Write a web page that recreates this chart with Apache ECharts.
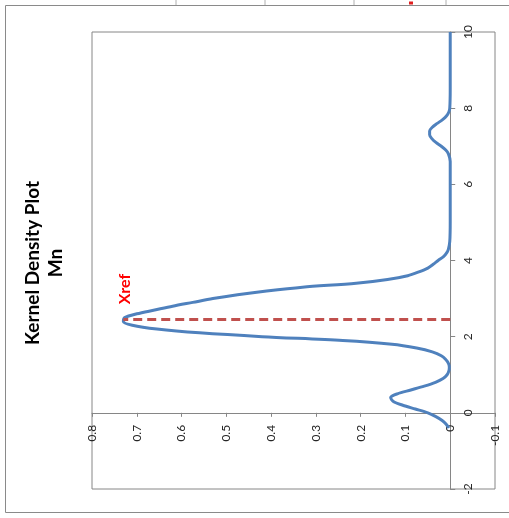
<!DOCTYPE html>
<html><head><meta charset="utf-8">
<script src="https://cdn.jsdelivr.net/npm/echarts@6/dist/echarts.min.js"></script>
<style>html,body{margin:0;padding:0;background:#fff}#c{width:509px;height:518px}</style>
</head><body><div id="c"></div><script>
// Kernel density of Mn (x value vs density)
const kdeX = [-0.4,-0.3,-0.2,-0.1,0,0.1,0.2,0.3,0.4,0.5,0.6,0.7,0.8,0.9,1.0,
  1.1,1.2,1.3,1.4,1.5,1.6,1.7,1.8,1.9,2.0,
  2.1,2.2,2.3,2.4,2.5,2.6,2.7,2.8,2.9,3.0,
  3.1,3.2,3.3,3.4,3.5,3.6,3.7,3.8,3.9,4.0,
  4.1,4.2,4.3,4.5,5,6,6.6,6.8,6.9,
  7.0,7.1,7.2,7.3,7.4,7.5,7.6,7.7,7.8,7.9,8.0,8.5,9,10];
const kdeDensity = [0.003,0.009,0.018,0.032,0.05,0.078,0.106,0.127,0.133,0.118,0.088,0.058,0.033,0.016,0.007,
  0.003,0.002,0.004,0.01,0.02,0.04,0.075,0.13,0.24,0.42,
  0.56,0.655,0.71,0.73,0.727,0.70,0.66,0.62,0.575,0.53,
  0.475,0.41,0.33,0.21,0.14,0.095,0.07,0.05,0.038,0.027,
  0.015,0.008,0.004,0.001,0,0,0,0.004,0.01,
  0.02,0.032,0.041,0.046,0.046,0.04,0.029,0.017,0.008,0.003,0.001,0,0,0];
// Reference line (Xref)
const xrefX = [2.45, 2.45];
const xrefDensity = [0, 0.73];
const titleLines = ['Kernel Density Plot', 'Mn'];
const xrefLabel = 'Xref';
// Axis ranges [min, max, interval]
const densityRange = [-0.1, 0.8, 0.1];
const xRange = [-2, 10, 2];

const GRID = {left: 92, right: 14, top: 32, bottom: 29};
const W = 509, H = 518;
const gw = W - GRID.left - GRID.right, gh = H - GRID.top - GRID.bottom;
// place each axis on the other axis' zero
const yAxisOffset = -(0 - densityRange[0]) / (densityRange[1] - densityRange[0]) * gw;
const xAxisOffset = -(0 - xRange[0]) / (xRange[1] - xRange[0]) * gh;

const chart = echarts.init(document.getElementById('c'), null, {renderer: 'canvas'});
const labelStyle = {fontFamily: 'Lato', fontSize: 12, color: '#262626'};
const axisGray = '#868686';

chart.setOption({
  animation: false,
  backgroundColor: '#fff',
  grid: Object.assign({show: true, borderColor: axisGray, borderWidth: 1, outerBoundsMode: 'none', containLabel: false}, GRID),
  xAxis: {
    type: 'value', inverse: true,
    min: densityRange[0], max: densityRange[1], interval: densityRange[2],
    position: 'bottom', offset: xAxisOffset,
    axisLine: {show: true, onZero: false, lineStyle: {color: axisGray, width: 1}},
    axisTick: {show: true, inside: false, length: 4, lineStyle: {color: axisGray}},
    splitLine: {show: false},
    axisLabel: Object.assign({rotate: 90, margin: 12, showMinLabel: true, showMaxLabel: true}, labelStyle)
  },
  yAxis: {
    type: 'value',
    min: xRange[0], max: xRange[1], interval: xRange[2],
    position: 'right', offset: yAxisOffset,
    axisLine: {show: true, onZero: false, lineStyle: {color: axisGray, width: 1}},
    axisTick: {show: true, inside: false, length: 5, lineStyle: {color: axisGray}},
    splitLine: {show: false},
    axisLabel: Object.assign({rotate: 90, margin: 12, showMinLabel: true, showMaxLabel: true}, labelStyle)
  },
  series: [
    {
      type: 'line', name: 'KDE',
      data: kdeX.map((x, i) => [kdeDensity[i], x]),
      showSymbol: false, smooth: 0.3,
      lineStyle: {color: '#4F81BD', width: 3},
      z: 2
    },
    {
      type: 'line', name: 'Xref',
      data: xrefX.map((x, i) => [xrefDensity[i], x]),
      showSymbol: false,
      lineStyle: {color: '#C0504D', width: 3, type: [9, 5]},
      z: 3
    }
  ],
  graphic: [
    {type: 'rect', shape: {x: 5.5, y: 5.5, width: 520, height: 507}, style: {fill: null, stroke: '#8a8a8a', lineWidth: 1}, silent: true},
    {type: 'line', shape: {x1: 176, y1: 0, x2: 176, y2: 5}, style: {stroke: '#b0b0b0', lineWidth: 1}},
    {type: 'line', shape: {x1: 265, y1: 0, x2: 265, y2: 5}, style: {stroke: '#b0b0b0', lineWidth: 1}},
    {type: 'line', shape: {x1: 354, y1: 0, x2: 354, y2: 5}, style: {stroke: '#b0b0b0', lineWidth: 1}},
    {type: 'line', shape: {x1: 446, y1: 0, x2: 446, y2: 5}, style: {stroke: '#b0b0b0', lineWidth: 1}},
    {type: 'line', shape: {x1: 409, y1: 3, x2: 413, y2: 3}, style: {stroke: '#e02020', lineWidth: 3}},
    {type: 'text', x: 33, y: 263, rotation: Math.PI / 2,
      style: {text: titleLines[0], font: 'bold 19px Lato', fill: '#000', align: 'center', verticalAlign: 'middle'}},
    {type: 'text', x: 56, y: 263, rotation: Math.PI / 2,
      style: {text: titleLines[1], font: 'bold 19px Lato', fill: '#000', align: 'center', verticalAlign: 'middle'}},
    {type: 'text', x: 125, y: 289, rotation: Math.PI / 2,
      style: {text: xrefLabel, font: 'bold 16px Lato', fill: '#FF0000', align: 'center', verticalAlign: 'middle'}}
  ]
});
</script></body></html>
